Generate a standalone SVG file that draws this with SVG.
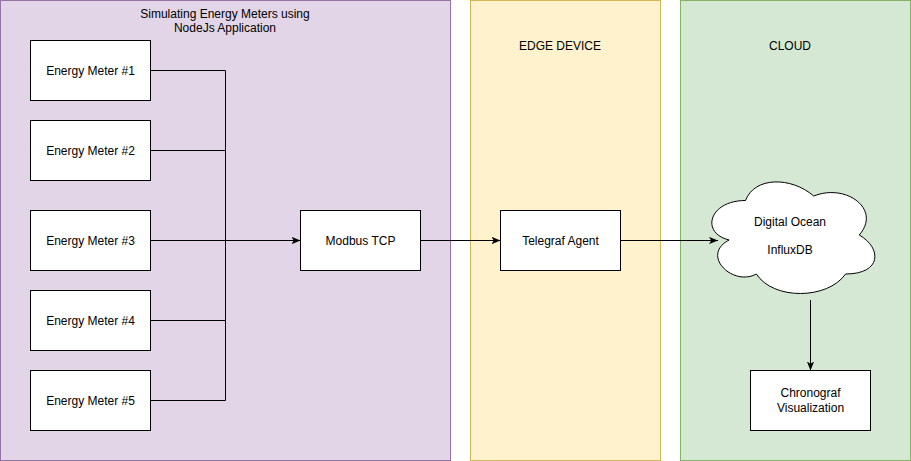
<svg xmlns="http://www.w3.org/2000/svg" width="911" height="461" viewBox="0 0 911 461">
<style>
text{font-family:"Liberation Sans",Arial,sans-serif;font-size:12px;fill:#000;text-anchor:middle}
.box{fill:#fff;stroke:#000;stroke-width:1}
.edge{fill:none;stroke:#000;stroke-width:1}
</style>
<defs>
<marker id="arr" viewBox="0 0 10 8" refX="10" refY="4" markerWidth="9" markerHeight="7.2" markerUnits="userSpaceOnUse" orient="auto">
<path d="M0,0 L10,4 L0,8 L2.5,4 Z" fill="#000"/>
</marker>
</defs>
<g id="zone-sim">
<rect x="0.5" y="0.5" width="450" height="460" fill="#e1d5e7" stroke="#9673a6"/>
<text x="225" y="18">Simulating Energy Meters using</text>
<text x="225" y="32">NodeJs Application</text>
</g>
<g id="zone-edge">
<rect x="470.5" y="0.5" width="190" height="460" fill="#fff2cc" stroke="#d6b656"/>
<text x="560" y="50">EDGE DEVICE</text>
</g>
<g id="zone-cloud">
<rect x="680.5" y="0.5" width="230" height="460" fill="#d5e8d4" stroke="#82b366"/>
<text x="790" y="50">CLOUD</text>
</g>
<g id="connectors">
<polyline class="edge" points="150.5,70.5 225.5,70.5 225.5,400.5 150.5,400.5"/>
<line class="edge" x1="150.5" y1="150.5" x2="225.5" y2="150.5"/>
<line class="edge" x1="150.5" y1="320.5" x2="225.5" y2="320.5"/>
<line class="edge" x1="150.5" y1="240.5" x2="300.5" y2="240.5" marker-end="url(#arr)"/>
<line class="edge" x1="420.5" y1="240.5" x2="500.5" y2="240.5" marker-end="url(#arr)"/>
<line class="edge" x1="620.5" y1="240.5" x2="718" y2="240.5" marker-end="url(#arr)"/>
<line class="edge" x1="810.5" y1="300" x2="810.5" y2="370.5" marker-end="url(#arr)"/>
</g>
<g id="meter1"><rect class="box" x="30.5" y="40.5" width="120" height="60"/><text x="90.5" y="74.5">Energy Meter #1</text></g>
<g id="meter2"><rect class="box" x="30.5" y="120.5" width="120" height="60"/><text x="90.5" y="154.5">Energy Meter #2</text></g>
<g id="meter3"><rect class="box" x="30.5" y="210.5" width="120" height="60"/><text x="90.5" y="244.5">Energy Meter #3</text></g>
<g id="meter4"><rect class="box" x="30.5" y="290.5" width="120" height="60"/><text x="90.5" y="324.5">Energy Meter #4</text></g>
<g id="meter5"><rect class="box" x="30.5" y="370.5" width="120" height="60"/><text x="90.5" y="404.5">Energy Meter #5</text></g>
<g id="modbus"><rect class="box" x="300.5" y="210.5" width="120" height="60"/><text x="360.5" y="244.5">Modbus TCP</text></g>
<g id="telegraf"><rect class="box" x="500.5" y="210.5" width="120" height="60"/><text x="560.5" y="244.5">Telegraf Agent</text></g>
<g id="influx">
<path class="box" d="M745.5,200.5 C709.1,200.5 700,233 729.1,240 C700,255 732.8,287 756.4,274 C772.8,300 827.4,300 845.6,274 C882,274 882,248 859.25,235 C882,209 845.6,183 813.75,196 C791,176.5 754.6,176.5 745.5,200.5 Z"/>
<text x="790" y="226">Digital Ocean</text>
<text x="790" y="254">InfluxDB</text>
</g>
<g id="chronograf"><rect class="box" x="750.5" y="370.5" width="120" height="60"/><text x="810.5" y="397">Chronograf</text><text x="810.5" y="412">Visualization</text></g>
</svg>
